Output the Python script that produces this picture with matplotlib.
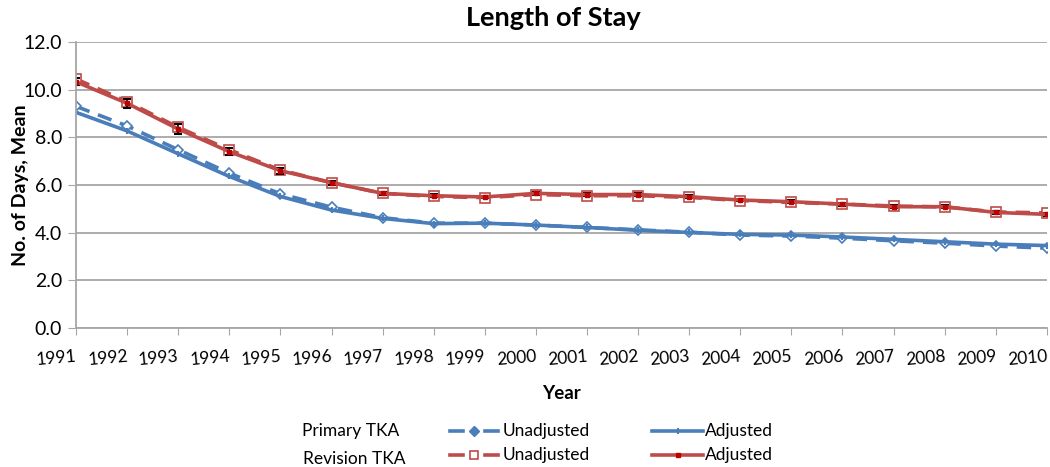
import numpy as np
import matplotlib
matplotlib.use("Agg")
import matplotlib.pyplot as plt
from matplotlib.lines import Line2D

plt.rcParams['font.family'] = ['Lato', 'DejaVu Sans']

years = [str(y) for y in range(1991, 2011)]

primary_unadj = [9.3, 8.48, 7.48, 6.5, 5.63, 5.07, 4.63, 4.4, 4.4, 4.32, 4.22, 4.12, 4.02, 3.9, 3.86, 3.77, 3.66, 3.56, 3.44, 3.35]
primary_adj = [9.05, 8.27, 7.31, 6.36, 5.52, 4.95, 4.6, 4.38, 4.4, 4.32, 4.22, 4.1, 4.01, 3.93, 3.9, 3.82, 3.72, 3.62, 3.52, 3.46]
revision_unadj = [10.45, 9.5, 8.42, 7.48, 6.63, 6.1, 5.65, 5.52, 5.47, 5.6, 5.55, 5.55, 5.48, 5.35, 5.27, 5.2, 5.12, 5.08, 4.87, 4.83]
revision_adj = [10.33, 9.43, 8.35, 7.4, 6.6, 6.1, 5.65, 5.55, 5.5, 5.65, 5.6, 5.6, 5.51, 5.37, 5.3, 5.2, 5.09, 5.09, 4.85, 4.77]
revision_err = [0.15, 0.2, 0.2, 0.15, 0.12, 0.08, 0.06, 0.06, 0.06, 0.06, 0.06, 0.06, 0.06, 0.06, 0.06, 0.06, 0.06, 0.06, 0.06, 0.06]

blue = "#4a7ebb"
red = "#be4b48"

x = np.arange(len(years))

W, H = 1050, 467
fig = plt.figure(figsize=(W / 100, H / 100), dpi=100)
ax = fig.add_axes([0.0724, 0.2976, 0.9246, 0.6124])

ax.plot(x, primary_unadj, "--", color=blue, lw=2.6, dashes=(4, 2.5),
        marker="D", ms=5, mfc="white", mec=blue, mew=1.2)
ax.plot(x, primary_adj, "-", color=blue, lw=2.6, marker="|", ms=5, mec=blue, mew=1.5)
ax.plot(x, revision_unadj, "--", color=red, lw=2.6, dashes=(4, 2.5),
        marker="s", ms=7, mfc="white", mec=red, mew=1.2)
ax.errorbar(x, revision_adj, yerr=revision_err, fmt="-", color=red, lw=2.6,
            marker="s", ms=3.5, mfc="#c00000", mec="#c00000",
            ecolor="black", elinewidth=1.2, capsize=3, capthick=1.5)

ax.set_xlim(0, len(years) - 1)
ax.set_ylim(0, 12)
ax.set_yticks(np.arange(0, 12.1, 2))
ax.set_yticklabels(["%.1f" % v for v in np.arange(0, 12.1, 2)], fontsize=14)
ax.set_xticks(x)
ax.set_xticklabels(years, fontsize=12.5, rotation=5, ha="right", rotation_mode="anchor")
ax.tick_params(axis="x", length=5, color="#a6a6a6", pad=10)
ax.tick_params(axis="y", length=6, color="#a6a6a6", pad=4)

ax.grid(axis="y", color="#a6a6a6", lw=1.3)
ax.set_axisbelow(True)
for s in ["top", "right"]:
    ax.spines[s].set_visible(False)
for s in ["left", "bottom"]:
    ax.spines[s].set_color("#a6a6a6")
    ax.spines[s].set_linewidth(1.3)

ax.set_ylabel("No. of Days, Mean", fontsize=14, fontweight="bold")
ax.yaxis.set_label_coords(-0.048, 0.5)
ax.set_xlabel("Year", fontsize=13.5, fontweight="bold", labelpad=12)
fig.text(0.527, 0.962, "Length of Stay", ha="center", va="center", fontsize=19.5, fontweight="bold")


# legend drawn as a small table, positions in pixels
def fx(px):
    return px / W


def fy(py):
    return 1 - py / H


def sample(x0, x1, py, color, dashed, **mk):
    y = fy(py)
    if dashed:
        seg = (x1 - x0) * 0.27
        fig.add_artist(Line2D([fx(x0), fx(x0 + seg)], [y, y], color=color, lw=2.6, transform=fig.transFigure))
        fig.add_artist(Line2D([fx(x1 - seg), fx(x1)], [y, y], color=color, lw=2.6, transform=fig.transFigure))
    else:
        fig.add_artist(Line2D([fx(x0), fx(x1)], [y, y], color=color, lw=2.6, transform=fig.transFigure))
    fig.add_artist(Line2D([fx((x0 + x1) / 2)], [y], color=color, lw=0, transform=fig.transFigure, **mk))


fs = 12.5
fig.text(fx(302), fy(431), "Primary TKA", fontsize=fs, va="center")
fig.text(fx(303), fy(459), "Revision TKA", fontsize=fs, va="center")

sample(450, 498, 431, blue, True, marker="D", ms=5, mfc=blue, mec=blue)
sample(450, 498, 455, red, True, marker="s", ms=6, mfc="white", mec=red, mew=1.2)
fig.text(fx(503), fy(431), "Unadjusted", fontsize=fs, va="center")
fig.text(fx(503), fy(455), "Unadjusted", fontsize=fs, va="center")

sample(652, 703, 431, blue, False, marker="|", ms=5, mec=blue, mew=1.5)
sample(652, 703, 455, red, False, marker="s", ms=3.5, mfc="#c00000", mec="#c00000")
fig.text(fx(705), fy(431), "Adjusted", fontsize=fs, va="center")
fig.text(fx(705), fy(455), "Adjusted", fontsize=fs, va="center")

fig.savefig("out.png", dpi=100)
